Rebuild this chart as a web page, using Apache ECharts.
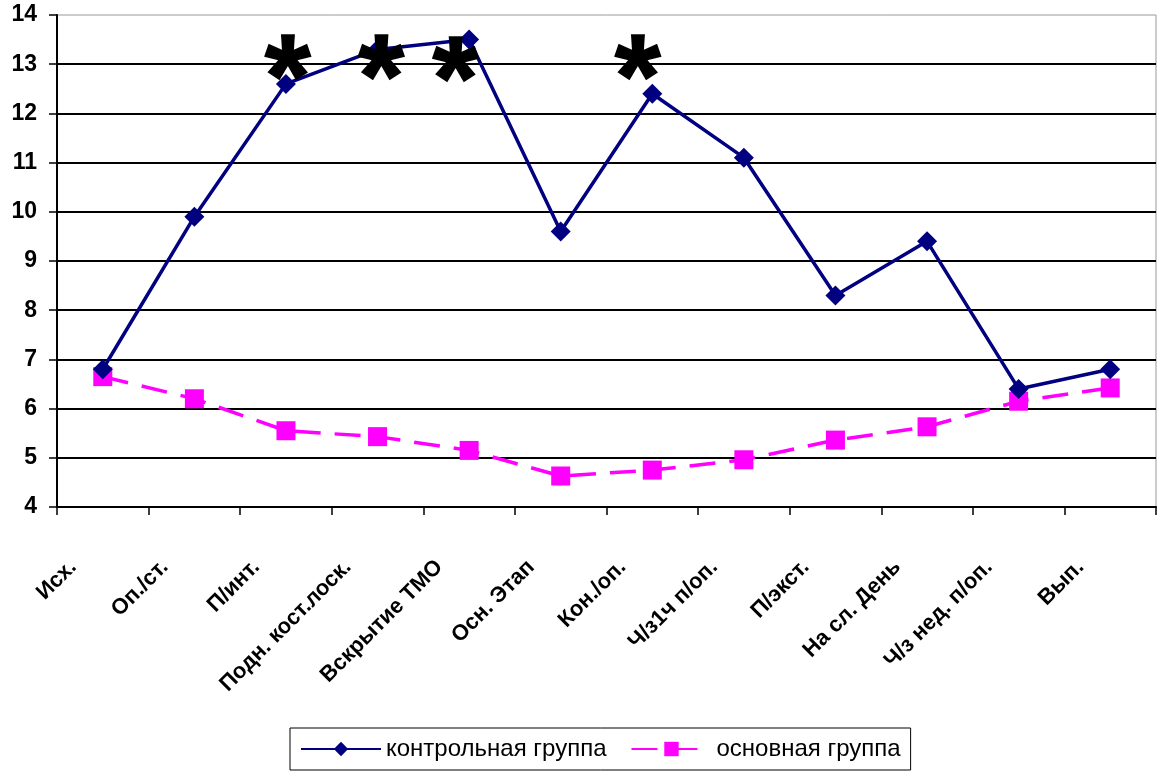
<!DOCTYPE html>
<html>
<head>
<meta charset="utf-8">
<script src="https://cdn.jsdelivr.net/npm/echarts@6/dist/echarts.min.js"></script>
<style>
html,body{margin:0;padding:0;background:#fff;}
#chart{width:1160px;height:773px;}
</style>
</head>
<body>
<div id="chart"></div>
<script>
// ---- data ----
const categories = ['Исх.', 'Оп./ст.', 'П/инт.', 'Подн. кост.лоск.', 'Вскрытие ТМО', 'Осн. Этап', 'Кон./оп.', 'Ч/з1ч п/оп.', 'П/экст.', 'На сл. День', 'Ч/з нед. п/оп.', 'Вып.'];
const controlName = 'контрольная группа';
const mainName = 'основная группа';
const controlValues = [6.8, 9.9, 12.6, 13.3, 13.5, 9.6, 12.4, 11.1, 8.3, 9.4, 6.4, 6.8];
const mainValues = [6.65, 6.2, 5.55, 5.43, 5.15, 4.63, 4.75, 4.96, 5.36, 5.63, 6.15, 6.42];
// significance marks: position along category axis (in category units) and value level
const sigMarkX = [2.52, 3.54, 4.35, 6.34];
const sigMarkY = [13.1, 13.1, 13.05, 13.1];
const sigMarkText = '*';
const yMin = 4, yMax = 14, yStep = 1;

const FONT = 'Arial, "Liberation Sans", sans-serif';
const chart = echarts.init(document.getElementById('chart'), null, {renderer: 'canvas'});
chart.setOption({
  animation: false,
  backgroundColor: '#fff',
  grid: {left: 57, right: 4, top: 15, bottom: 266, containLabel: false, outerBoundsMode: 'none',
         show: true, borderColor: '#999', borderWidth: 1},
  legend: {
    data: [controlName, mainName],
    left: 290, top: 728,
    orient: 'horizontal',
    padding: [9, 10, 9, 10],
    itemWidth: 80, itemHeight: 18, itemGap: 24,
    borderColor: '#000', borderWidth: 1,
    textStyle: {fontFamily: FONT, fontSize: 24, color: '#000'}
  },
  xAxis: [{
    type: 'category',
    data: categories,
    boundaryGap: true,
    axisLine: {show: true, lineStyle: {color: '#000', width: 2}},
    axisTick: {show: true, inside: false, length: 8, lineStyle: {color: '#000', width: 1.5}},
    axisLabel: {
      interval: 0, rotate: 45, margin: 27,
      padding: [0, 42, 0, 0],
      fontFamily: FONT, fontSize: 22, fontWeight: 'bold', color: '#000'
    },
    splitLine: {show: false}
  }, {
    type: 'value', min: 0, max: categories.length, show: false
  }],
  yAxis: {
    type: 'value', min: yMin, max: yMax, interval: yStep,
    axisLine: {show: true, lineStyle: {color: '#000', width: 2}},
    axisTick: {show: true, inside: false, length: 8, lineStyle: {color: '#000', width: 1.5}},
    axisLabel: {margin: 20, fontFamily: FONT, fontSize: 23, fontWeight: 'bold', color: '#000'},
    splitLine: {show: true, showMaxLine: false, lineStyle: {color: '#000', width: 2}}
  },
  series: [{
    name: controlName,
    type: 'line',
    data: controlValues,
    symbol: 'diamond', symbolSize: 20,
    lineStyle: {color: '#000080', width: 3.5},
    itemStyle: {color: '#000080'},
    z: 3
  }, {
    name: mainName,
    type: 'line',
    data: mainValues,
    symbol: 'rect', symbolSize: 19,
    lineStyle: {color: '#ff00ff', width: 3.5, type: [26, 14]},
    itemStyle: {color: '#ff00ff'},
    z: 2
  }, {
    name: 'sig',
    type: 'scatter',
    xAxisIndex: 1,
    data: sigMarkX.map((x, i) => [x, sigMarkY[i]]),
    symbolSize: 0,
    itemStyle: {color: '#000', opacity: 1},
    silent: true,
    label: {show: true, position: 'inside', offset: [0, 25], formatter: sigMarkText,
            fontFamily: FONT, fontSize: 118, fontWeight: 'bold', color: '#000', opacity: 1,
            textBorderColor: '#000', textBorderWidth: 1.5},
    z: 5
  }]
});
</script>
</body>
</html>
